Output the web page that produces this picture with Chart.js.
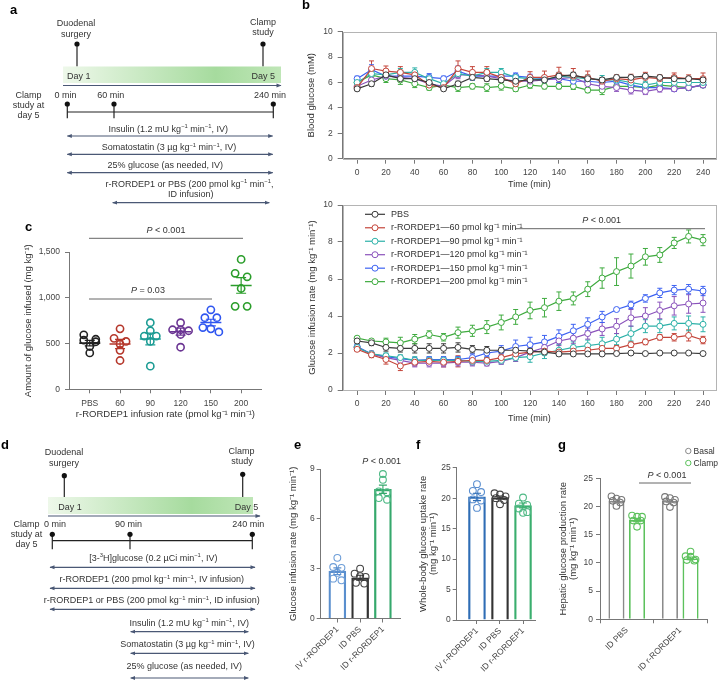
<!DOCTYPE html>
<html>
<head>
<meta charset="utf-8">
<title>r-RORDEP1 clamp figure</title>
<script src="https://cdn.jsdelivr.net/npm/chart.js@4.4.1/dist/chart.umd.min.js"></script>
<style>
  body { margin: 0; background: #fff; }
  #fig { position: relative; width: 721px; height: 680px; overflow: hidden; font-family: 'Liberation Sans', Arial, sans-serif; }
  #fig canvas { position: absolute; }
  #overlay { position: absolute; left: 0; top: 0; pointer-events: none; font-family: 'Liberation Sans', Arial, sans-serif; }
</style>
</head>
<body>
<div id="fig">
  <canvas id="chartB1"></canvas>
  <canvas id="chartB2"></canvas>
  <canvas id="chartC"></canvas>
  <canvas id="chartE"></canvas>
  <canvas id="chartF"></canvas>
  <canvas id="chartG"></canvas>
  <svg id="overlay" width="721" height="680"></svg>
</div>
<script>
// ---- panel b: time course ----
const times = [0, 10, 20, 30, 40, 50, 60, 70, 80, 90, 100, 110, 120, 130, 140, 150, 160, 170, 180, 190, 200, 210, 220, 230, 240];
const timeTicks = [0, 20, 40, 60, 80, 100, 120, 140, 160, 180, 200, 220, 240];
const seriesLabels = ['PBS', 'r-RORDEP1\u201460 pmol kg\u207B\u00B9 min\u207B\u00B9', 'r-RORDEP1\u201490 pmol kg\u207B\u00B9 min\u207B\u00B9',
  'r-RORDEP1\u2014120 pmol kg\u207B\u00B9 min\u207B\u00B9', 'r-RORDEP1\u2014150 pmol kg\u207B\u00B9 min\u207B\u00B9', 'r-RORDEP1\u2014200 pmol kg\u207B\u00B9 min\u207B\u00B9'];

// blood glucose (mM)
const glucPBS = [5.5, 5.9, 6.6, 6.3, 6.3, 6.0, 5.5, 5.9, 6.4, 6.3, 6.2, 6.1, 6.2, 6.2, 6.5, 6.6, 6.3, 6.2, 6.4, 6.4, 6.5, 6.4, 6.3, 6.3, 6.2];
const gluc60  = [5.6, 7.1, 6.9, 6.8, 6.6, 5.8, 5.6, 7.1, 6.8, 6.8, 6.4, 5.9, 6.4, 6.4, 6.6, 6.5, 6.4, 6.1, 6.3, 6.2, 6.4, 6.3, 6.4, 6.3, 6.3];
const gluc90  = [6.0, 6.7, 6.6, 6.8, 6.8, 6.3, 5.9, 6.7, 6.5, 6.8, 6.8, 6.4, 6.3, 6.2, 6.5, 6.4, 6.3, 6.2, 6.2, 6.0, 5.8, 6.0, 6.0, 6.0, 6.0];
const gluc120 = [5.7, 6.2, 6.5, 6.4, 6.3, 5.9, 5.7, 6.6, 6.6, 6.5, 6.3, 6.1, 6.1, 6.2, 6.3, 6.4, 5.9, 5.7, 5.6, 5.4, 5.3, 5.5, 5.5, 5.6, 5.8];
const gluc150 = [6.3, 7.0, 6.5, 6.5, 6.5, 6.4, 6.3, 6.9, 6.5, 6.5, 6.5, 6.5, 6.4, 6.3, 6.3, 6.1, 6.1, 6.0, 6.1, 5.8, 5.6, 5.6, 5.5, 5.6, 5.8];
const gluc200 = [6.0, 6.6, 6.3, 6.2, 5.9, 5.6, 5.8, 5.6, 5.7, 5.6, 5.7, 5.5, 5.8, 5.7, 5.7, 5.7, 5.4, 5.4, 5.7, 5.7, 5.6, 5.8, 5.7, 5.6, 5.8];
const glucPBSErr = [0.15, 0.2, 0.25, 0.2, 0.2, 0.2, 0.15, 0.2, 0.2, 0.2, 0.2, 0.2, 0.2, 0.2, 0.2, 0.2, 0.15, 0.15, 0.15, 0.15, 0.15, 0.15, 0.15, 0.15, 0.15];
const gluc60Err  = [0.2, 0.6, 0.4, 0.45, 0.3, 0.3, 0.2, 0.6, 0.45, 0.45, 0.3, 0.2, 0.45, 0.5, 0.6, 0.6, 0.5, 0.3, 0.3, 0.45, 0.4, 0.3, 0.35, 0.3, 0.45];
const gluc90Err  = [0.2, 0.3, 0.3, 0.3, 0.35, 0.3, 0.2, 0.3, 0.3, 0.3, 0.3, 0.25, 0.25, 0.25, 0.3, 0.3, 0.3, 0.35, 0.3, 0.3, 0.3, 0.3, 0.3, 0.3, 0.3];
const gluc120Err = [0.2, 0.3, 0.3, 0.3, 0.3, 0.3, 0.2, 0.3, 0.3, 0.3, 0.3, 0.25, 0.25, 0.25, 0.3, 0.3, 0.3, 0.3, 0.3, 0.3, 0.25, 0.25, 0.2, 0.2, 0.2];
const gluc150Err = [0.2, 0.4, 0.3, 0.3, 0.3, 0.3, 0.2, 0.4, 0.3, 0.3, 0.3, 0.25, 0.25, 0.25, 0.3, 0.3, 0.3, 0.3, 0.3, 0.25, 0.25, 0.2, 0.2, 0.2, 0.2];
const gluc200Err = [0.25, 0.3, 0.3, 0.35, 0.3, 0.2, 0.25, 0.3, 0.2, 0.3, 0.3, 0.2, 0.25, 0.2, 0.2, 0.25, 0.2, 0.35, 0.2, 0.2, 0.25, 0.2, 0.2, 0.2, 0.2];

// glucose infusion rate (mg kg-1 min-1)
const girPBS = [2.65, 2.55, 2.3, 2.25, 2.25, 2.25, 2.25, 2.3, 2.2, 2.15, 2.15, 2.15, 2.1, 2.05, 1.95, 1.95, 1.95, 1.95, 1.97, 2.0, 1.97, 2.0, 2.0, 2.0, 1.97];
const gir60  = [2.2, 1.9, 1.65, 1.3, 1.5, 1.55, 1.5, 1.55, 1.6, 1.6, 1.75, 1.95, 2.05, 2.1, 2.05, 2.1, 2.15, 2.25, 2.25, 2.45, 2.6, 2.85, 2.85, 2.95, 2.7];
const gir90  = [2.3, 1.95, 1.85, 1.75, 1.6, 1.6, 1.6, 1.6, 1.55, 1.55, 1.6, 1.75, 1.8, 2.0, 2.15, 2.3, 2.4, 2.5, 2.75, 3.05, 3.45, 3.45, 3.6, 3.6, 3.55];
const gir120 = [2.3, 1.95, 1.75, 1.6, 1.45, 1.45, 1.45, 1.5, 1.5, 1.45, 1.55, 1.75, 2.05, 2.3, 2.65, 2.8, 3.05, 3.3, 3.45, 3.9, 4.0, 4.3, 4.55, 4.65, 4.7];
const gir150 = [2.35, 1.95, 1.8, 1.7, 1.6, 1.65, 1.65, 1.65, 1.75, 2.0, 2.1, 2.35, 2.45, 2.6, 2.9, 3.2, 3.55, 3.95, 4.35, 4.6, 4.95, 5.25, 5.4, 5.45, 5.35];
const gir200 = [2.8, 2.65, 2.6, 2.55, 2.75, 3.0, 2.85, 3.1, 3.2, 3.4, 3.65, 3.95, 4.3, 4.45, 4.8, 4.95, 5.45, 6.05, 6.4, 6.7, 7.2, 7.3, 7.95, 8.3, 8.1];
const girPBSErr = [0.15, 0.15, 0.2, 0.2, 0.25, 0.25, 0.25, 0.25, 0.2, 0.2, 0.15, 0.15, 0.15, 0.15, 0.1, 0.1, 0.1, 0.05, 0.05, 0.05, 0.05, 0.05, 0.05, 0.05, 0.05];
const gir60Err  = [0.1, 0.15, 0.25, 0.25, 0.2, 0.2, 0.25, 0.3, 0.2, 0.15, 0.15, 0.15, 0.1, 0.15, 0.15, 0.15, 0.1, 0.15, 0.15, 0.15, 0.15, 0.15, 0.2, 0.3, 0.2];
const gir90Err  = [0.1, 0.15, 0.15, 0.15, 0.2, 0.2, 0.2, 0.2, 0.2, 0.2, 0.2, 0.2, 0.3, 0.3, 0.3, 0.3, 0.3, 0.35, 0.3, 0.4, 0.35, 0.35, 0.35, 0.4, 0.4];
const gir120Err = [0.1, 0.15, 0.15, 0.2, 0.2, 0.2, 0.2, 0.2, 0.2, 0.15, 0.15, 0.2, 0.25, 0.25, 0.25, 0.3, 0.3, 0.35, 0.4, 0.45, 0.45, 0.45, 0.5, 0.5, 0.5];
const gir150Err = [0.1, 0.1, 0.15, 0.15, 0.15, 0.15, 0.15, 0.15, 0.2, 0.2, 0.3, 0.35, 0.4, 0.35, 0.35, 0.35, 0.35, 0.3, 0.1, 0.2, 0.2, 0.25, 0.25, 0.25, 0.25];
const gir200Err = [0.1, 0.1, 0.2, 0.3, 0.25, 0.2, 0.2, 0.3, 0.3, 0.35, 0.4, 0.4, 0.45, 0.5, 0.5, 0.35, 0.4, 0.55, 0.75, 0.65, 0.45, 0.4, 0.3, 0.35, 0.3];

// ---- panel c: amount of glucose infused (mg kg-1) ----
const doseLabels = ['PBS', '60', '90', '120', '150', '200'];
const cPBS = [596, 547, 537, 520, 468, 398];
const c60  = [661, 557, 523, 495, 426, 315];
const c90  = [728, 640, 582, 582, 523, 253];
const c120 = [728, 651, 651, 640, 599, 460];
const c150 = [869, 783, 783, 675, 661, 627];
const c200 = [1420, 1268, 1230, 1102, 907, 907];
const cMean = [505, 495, 550, 630, 730, 1135];
const cSem  = [30, 50, 65, 38, 36, 85];

// ---- panel e: glucose infusion rate ----
const barLabels = ['IV r-RORDEP1', 'ID PBS', 'ID r-RORDEP1'];
const eIV  = [3.65, 3.1, 3.05, 2.75, 2.4, 2.3];
const ePBS = [3.0, 2.7, 2.55, 2.5, 2.15, 2.1];
const eID  = [8.7, 8.35, 7.65, 7.6, 7.25, 7.15];
const eMean = [2.85, 2.45, 7.78];
const eSem  = [0.2, 0.15, 0.25];

// ---- panel f: whole-body glucose uptake ----
const fIV  = [22.3, 21.2, 21.0, 19.8, 19.6, 18.4];
const fPBS = [20.8, 20.6, 20.3, 20.0, 19.7, 19.0];
const fID  = [20.1, 19.1, 18.9, 18.3, 17.7, 17.6];
const fMean = [20.2, 20.1, 18.8];
const fSem  = [0.6, 0.25, 0.4];

// ---- panel g: hepatic glucose production ----
const gLabels = ['ID PBS', 'ID r-RORDEP1'];
const gBasalPBS = [21.8, 21.4, 21.2, 21.0, 20.7, 20.1];
const gClampPBS = [18.4, 18.2, 18.2, 17.5, 17.5, 16.4];
const gBasalR   = [21.7, 21.5, 21.2, 20.9, 20.7, 19.9];
const gClampR   = [12.0, 11.2, 11.1, 10.6, 10.5, 10.4];
const gBasalMean = [21.0, 21.0];
const gClampMean = [17.6, 10.8];
const gBasalSem = [0.25, 0.25];
const gClampSem = [0.3, 0.25];

// colours
const bColors = ['#3a3a3a', '#c4453a', '#2cb1a8', '#8a52bb', '#3d62f2', '#3fab3f'];
const cColors = ['#222222', '#b5372b', '#1c9c94', '#6b3593', '#2f56f0', '#2a9d2a'];
const eColors = ['#5a8fce', '#333333', '#35a86c'];
const fColors = ['#2f6db5', '#333333', '#3aae6e'];
const basalColor = '#8a8a8a', clampColor = '#5cc15c';

Chart.defaults.font.family = "'Liberation Sans', Arial, sans-serif";
Chart.defaults.color = '#333';

// put dots of one group into rows (pixel space) and centre each row on the group
function swarm(py, gap, tol) {
  const order = py.map((_, i) => i).sort((a, b) => py[a] - py[b]);
  const off = py.map(() => 0);
  let row = [];
  const flush = () => {
    const n = row.length, s = n === 2 ? gap * 1.5 : gap;
    row.forEach((idx, k) => { off[idx] = (k - (n - 1) / 2) * s; });
    row = [];
  };
  order.forEach(i => {
    if (row.length && (py[i] - py[row[0]] > tol || row.length >= 3)) flush();
    row.push(i);
  });
  flush();
  return off;
}

function valueOf(d) { return (d !== null && typeof d === 'object') ? d.y : d; }

function drawErrors(chart, behind) {
  const ctx = chart.ctx, ys = chart.scales.y;
  chart.data.datasets.forEach((ds, i) => {
    if (!ds.err || !!ds.errBehind !== behind) return;
    const meta = chart.getDatasetMeta(i);
    ctx.save();
    ctx.lineWidth = ds.errWidth || 1;
    meta.data.forEach((el, j) => {
      const v = valueOf(ds.data[j]);
      const top = ys.getPixelForValue(v + ds.err[j]), bot = ys.getPixelForValue(v - ds.err[j]);
      const w = ds.capW || 3;
      ctx.strokeStyle = Array.isArray(ds.errColor) ? ds.errColor[j] : (ds.errColor || ds.borderColor);
      ctx.beginPath();
      ctx.moveTo(el.x, top); ctx.lineTo(el.x, bot);
      ctx.moveTo(el.x - w, top); ctx.lineTo(el.x + w, top);
      ctx.moveTo(el.x - w, bot); ctx.lineTo(el.x + w, bot);
      ctx.stroke();
    });
    ctx.restore();
  });
}

function drawDots(chart) {
  const ctx = chart.ctx, ys = chart.scales.y;
  chart.data.datasets.forEach((ds, i) => {
    if (!ds.dots) return;
    const meta = chart.getDatasetMeta(i);
    meta.data.forEach((el, j) => {
      const py = ds.dots[j].map(v => ys.getPixelForValue(v));
      const px = swarm(py, ds.dotGap, ds.dotTol);
      ctx.save();
      ctx.strokeStyle = Array.isArray(ds.dotColor) ? ds.dotColor[j] : ds.dotColor;
      ctx.lineWidth = ds.dotWidth || 1.2;
      py.forEach((y, k) => {
        ctx.beginPath();
        ctx.arc(el.x + px[k], y, ds.dotRadius, 0, Math.PI * 2);
        ctx.stroke();
      });
      ctx.restore();
    });
  });
}

const marksPlugin = {
  id: 'marks',
  beforeDatasetsDraw(chart) { drawErrors(chart, true); },
  afterDatasetsDraw(chart) { drawDots(chart); drawErrors(chart, false); }
};

const framePlugin = {
  id: 'frame',
  beforeDatasetsDraw(chart) {
    const a = chart.chartArea, ctx = chart.ctx;
    ctx.save();
    ctx.strokeStyle = '#b4b4b4';
    ctx.lineWidth = 1;
    ctx.strokeRect(Math.round(a.left) + 0.5, Math.round(a.top) + 0.5, Math.round(a.right - a.left), Math.round(a.bottom - a.top));
    ctx.restore();
  }
};

// legend drawn inside the plot of the infusion-rate chart
const insideLegend = {
  id: 'insideLegend',
  afterDatasetsDraw(chart, args, opts) {
    if (!opts.show) return;
    const ctx = chart.ctx, a = chart.chartArea;
    ctx.save();
    ctx.font = "9px 'Liberation Sans', Arial, sans-serif";
    ctx.textBaseline = 'middle';
    chart.data.datasets.forEach((ds, i) => {
      const x = a.left + opts.dx, y = a.top + opts.dy + i * opts.step;
      ctx.strokeStyle = ds.borderColor;
      ctx.lineWidth = 1.2;
      ctx.beginPath(); ctx.moveTo(x, y); ctx.lineTo(x + 20, y); ctx.stroke();
      ctx.beginPath(); ctx.arc(x + 10, y, 3, 0, Math.PI * 2);
      ctx.fillStyle = '#fff'; ctx.fill(); ctx.lineWidth = 1; ctx.stroke();
      ctx.fillStyle = '#333';
      ctx.fillText(ds.label, x + 26, y);
    });
    ctx.restore();
  }
};

// put a chart so that its plot area lands on the given page rectangle
function placeChart(id, plot, m, config) {
  const cv = document.getElementById(id);
  const left = Math.round(plot.x0 - m.l), top = Math.round(plot.y0 - m.t);
  const w = Math.round(plot.x1 + m.r) - left, h = Math.round(plot.y1 + m.b) - top;
  cv.style.left = left + 'px'; cv.style.top = top + 'px';
  cv.width = w; cv.height = h;
  cv.style.width = w + 'px'; cv.style.height = h + 'px';
  const yW = plot.x0 - left, xH = top + h - plot.y1;
  const o = config.options;
  o.responsive = false;
  o.animation = false;
  o.layout = { padding: { top: plot.y0 - top, right: left + w - plot.x1, left: 0, bottom: 0 } };
  o.scales.x.afterFit = s => { s.height = xH; s.paddingLeft = 0; s.paddingRight = 0; };
  o.scales.y.afterFit = s => { s.width = yW; s.paddingTop = 0; s.paddingBottom = 0; };
  o.plugins = Object.assign({ legend: { display: false }, tooltip: { enabled: false } }, o.plugins || {});
  return new Chart(cv, config);
}

function axisBase() {
  return {
    border: { color: '#777', width: 1 },
    grid: { drawOnChartArea: false, drawTicks: true, tickLength: 4, color: '#777' }
  };
}

function lineDatasets(values, errs) {
  return values.map((arr, k) => ({
    label: seriesLabels[k],
    data: times.map((t, i) => ({ x: t, y: arr[i] })),
    err: errs[k], errBehind: true, capW: 2.5, errColor: bColors[k],
    borderColor: bColors[k], borderWidth: 1.2,
    pointRadius: 3, pointBorderWidth: 1, pointBackgroundColor: '#fff', pointBorderColor: bColors[k]
  }));
}

function timeChart(id, plot, m, values, errs, yTitle, showLegend) {
  return placeChart(id, plot, m, {
    type: 'line',
    data: { datasets: lineDatasets(values, errs) },
    options: {
      scales: {
        x: Object.assign(axisBase(), {
          type: 'linear', min: -10, max: 249,
          afterBuildTicks: s => { s.ticks = timeTicks.map(v => ({ value: v })); },
          grid: { drawOnChartArea: false, tickLength: 5, color: '#777' },
          ticks: { font: { size: 8.5 }, color: '#444', padding: 4 },
          title: { display: true, text: 'Time (min)', font: { size: 9, lineHeight: 1.2 }, padding: 0, color: '#333' }
        }),
        y: Object.assign(axisBase(), {
          type: 'linear', min: 0, max: 10,
          grid: { drawOnChartArea: false, tickLength: 5, color: '#777' },
          ticks: { stepSize: 2, font: { size: 8.5 }, color: '#444', padding: 5 },
          title: { display: true, text: yTitle, font: { size: 9.5, lineHeight: 1.2 }, padding: 0, color: '#333' }
        })
      },
      plugins: { insideLegend: { show: showLegend, dx: 22.3, dy: 9.3, step: 13.47 } }
    },
    plugins: [framePlugin, marksPlugin, insideLegend]
  });
}

timeChart('chartB1', { x0: 342.7, x1: 718, y0: 31.7, y1: 158.7 }, { l: 36.7, r: 3, t: 10, b: 31.7 },
  [glucPBS, gluc60, gluc90, gluc120, gluc150, gluc200],
  [glucPBSErr, gluc60Err, gluc90Err, gluc120Err, gluc150Err, gluc200Err],
  'Blood glucose (mM)', false);

timeChart('chartB2', { x0: 342.7, x1: 718.3, y0: 205, y1: 390 }, { l: 35.4, r: 2.7, t: 8, b: 34.2 },
  [girPBS, gir60, gir90, gir120, gir150, gir200],
  [girPBSErr, gir60Err, gir90Err, gir120Err, gir150Err, gir200Err],
  'Glucose infusion rate (mg kg\u207B\u00B9 min\u207B\u00B9)', true);

// panel c: dot plot with mean and SEM
placeChart('chartC', { x0: 69, x1: 264, y0: 245, y1: 389.3 }, { l: 46.2, r: 10, t: 5, b: 30.4 }, {
  type: 'scatter',
  data: {
    datasets: [{
      data: cMean.map((v, i) => ({ x: i, y: v })),
      pointStyle: 'line', pointRadius: 10.5, pointBorderWidth: 1.6,
      pointBorderColor: cColors, borderColor: cColors,
      err: cSem, errColor: cColors, capW: 5, errWidth: 1.2,
      dots: [cPBS, c60, c90, c120, c150, c200], dotColor: cColors, dotRadius: 3.6, dotWidth: 1.6, dotGap: 8, dotTol: 5
    }]
  },
  options: {
    scales: {
      x: Object.assign(axisBase(), {
        type: 'linear', min: -0.686, max: 5.686,
        afterBuildTicks: s => { s.ticks = doseLabels.map((_, i) => ({ value: i })); },
        ticks: { font: { size: 8.5 }, color: '#444', padding: 5, callback: v => doseLabels[v] },
        title: { display: true, text: 'r-RORDEP1 infusion rate (pmol kg\u207B\u00B9 min\u207B\u00B9)', font: { size: 9.5, lineHeight: 1.2 }, padding: 0, color: '#333' }
      }),
      y: Object.assign(axisBase(), {
        type: 'linear', min: 0, max: 1500,
        ticks: { stepSize: 500, font: { size: 8.5 }, color: '#444', padding: 5, callback: v => v.toLocaleString('en-US') },
        title: { display: true, text: 'Amount of glucose infused (mg kg\u207B\u00B9)', font: { size: 9.5, lineHeight: 1.2 }, padding: 0, color: '#333' }
      })
    }
  },
  plugins: [marksPlugin]
});

// panels e and f: single-bar-per-group charts on a linear axis
function barChart(id, plot, m, means, sems, dots, colors, dotColors, yMax, yStep, yTitle, xMin, xMax) {
  return placeChart(id, plot, m, {
    type: 'bar',
    data: {
      datasets: [{
        data: means.map((v, i) => ({ x: i, y: v })),
        borderColor: colors, backgroundColor: 'rgba(255,255,255,0)', borderWidth: 1.6, barThickness: 17,
        err: sems, errColor: colors, capW: 4, errWidth: 1.1,
        dots: dots, dotColor: dotColors, dotRadius: 3.4, dotWidth: 1.1, dotGap: 5.5, dotTol: 4
      }]
    },
    options: {
      scales: {
        x: Object.assign(axisBase(), {
          type: 'linear', min: xMin, max: xMax, offset: false,
          afterBuildTicks: s => { s.ticks = barLabels.map((_, i) => ({ value: i })); },
          grid: { drawOnChartArea: false, tickLength: 4, color: '#777', offset: false },
          ticks: { font: { size: 8.5 }, color: '#444', padding: 2, minRotation: 45, maxRotation: 45, autoSkip: false, callback: v => barLabels[v] }
        }),
        y: Object.assign(axisBase(), {
          type: 'linear', min: 0, max: yMax,
          ticks: { stepSize: yStep, font: { size: 8.5 }, color: '#444', padding: 2 },
          title: { display: true, text: yTitle, font: { size: 9.5, lineHeight: 1.1 }, padding: 0, color: '#333' }
        })
      }
    },
    plugins: [marksPlugin]
  });
}

barChart('chartE', { x0: 320.7, x1: 400, y0: 469, y1: 618.5 }, { l: 33.1, r: 2, t: 4, b: 55 },
  eMean, eSem, [eIV, ePBS, eID], eColors, ['#6e9ed8', '#444444', '#4fb985'], 9, 3,
  'Glucose infusion rate (mg kg\u207B\u00B9 min\u207B\u00B9)', -0.73, 2.75);

barChart('chartF', { x0: 456.7, x1: 535, y0: 467.7, y1: 620 }, { l: 39.2, r: 2, t: 4, b: 55 },
  fMean, fSem, [fIV, fPBS, fID], fColors, ['#5b8fd0', '#444444', '#4fb985'], 25, 5,
  ['Whole-body glucose uptake rate', '(mg kg\u207B\u00B9 min\u207B\u00B9)'], -0.88, 2.52);

// panel g: grouped bars
placeChart('chartG', { x0: 600, x1: 707, y0: 478.3, y1: 619.3 }, { l: 41.9, r: 12, t: 4, b: 58 }, {
  type: 'bar',
  data: {
    labels: gLabels,
    datasets: [
      { label: 'Basal', data: gBasalMean, borderColor: basalColor, backgroundColor: 'rgba(255,255,255,0)', borderWidth: 1.6,
        categoryPercentage: 0.77, barPercentage: 0.78,
        err: gBasalSem, errColor: basalColor, capW: 4, errWidth: 1.1,
        dots: [gBasalPBS, gBasalR], dotColor: '#777', dotRadius: 3.3, dotWidth: 1.1, dotGap: 5, dotTol: 3.5 },
      { label: 'Clamp', data: gClampMean, borderColor: clampColor, backgroundColor: 'rgba(255,255,255,0)', borderWidth: 1.6,
        categoryPercentage: 0.77, barPercentage: 0.78,
        err: gClampSem, errColor: clampColor, capW: 4, errWidth: 1.1,
        dots: [gClampPBS, gClampR], dotColor: clampColor, dotRadius: 3.3, dotWidth: 1.1, dotGap: 5, dotTol: 3.5 }
    ]
  },
  options: {
    scales: {
      x: Object.assign(axisBase(), {
        ticks: { font: { size: 8.5 }, color: '#444', padding: 2, minRotation: 45, maxRotation: 45, autoSkip: false }
      }),
      y: Object.assign(axisBase(), {
        type: 'linear', min: 0, max: 25,
        ticks: { stepSize: 5, font: { size: 8.5 }, color: '#444', padding: 3 },
        title: { display: true, text: ['Hepatic glucose production rate', '(mg kg\u207B\u00B9 min\u207B\u00B9)'], font: { size: 9.5, lineHeight: 1.1 }, padding: 0, color: '#333' }
      })
    }
  },
  plugins: [marksPlugin]
});

// ---- schematics, panel letters and annotations (SVG overlay) ----
const svg = document.getElementById('overlay');
const NS = 'http://www.w3.org/2000/svg';
function el(tag, attrs, parent) {
  const e = document.createElementNS(NS, tag);
  for (const k in attrs) e.setAttribute(k, attrs[k]);
  (parent || svg).appendChild(e);
  return e;
}
// ^..^ = superscript, *..* = italic
function txt(x, y, s, anchor, size, extra) {
  size = size || 9;
  const t = el('text', Object.assign({ x: x, y: y, 'text-anchor': anchor || 'start', 'font-size': size, fill: '#333' }, extra || {}));
  let shift = 0;
  s.split(/(\^[^^]*\^|\*[^*]*\*)/).filter(p => p).forEach(p => {
    const sp = document.createElementNS(NS, 'tspan');
    if (p[0] === '^') {
      sp.textContent = p.slice(1, -1);
      sp.setAttribute('font-size', size * 0.65);
      sp.setAttribute('dy', -3.4);
      shift = 3.4;
    } else {
      if (p[0] === '*') { sp.textContent = p.slice(1, -1); sp.setAttribute('font-style', 'italic'); }
      else sp.textContent = p;
      if (shift) { sp.setAttribute('dy', shift); shift = 0; }
    }
    t.appendChild(sp);
  });
  return t;
}

const defs = el('defs', {});
const grad = el('linearGradient', { id: 'grd', x1: 0, y1: 0, x2: 1, y2: 0 }, defs);
el('stop', { offset: 0, 'stop-color': '#eef8ea' }, grad);
el('stop', { offset: 0.7, 'stop-color': '#a6db9e' }, grad);
el('stop', { offset: 1, 'stop-color': '#bfe6b7' }, grad);
const mk = el('marker', { id: 'ah', viewBox: '0 0 10 10', refX: 9, refY: 5, markerWidth: 5.5, markerHeight: 5, orient: 'auto-start-reverse', markerUnits: 'userSpaceOnUse' }, defs);
el('path', { d: 'M0,1 L10,5 L0,9 z', fill: '#4a5875' }, mk);

const arrowColor = '#4a5875';
function arrow(x1, x2, y, both) {
  const a = { x1: x1, y1: y, x2: x2, y2: y, stroke: arrowColor, 'stroke-width': 1.2, 'marker-end': 'url(#ah)' };
  if (both) a['marker-start'] = 'url(#ah)';
  el('line', a);
}
function pin(x, yTop, yBot) {
  el('line', { x1: x, y1: yTop, x2: x, y2: yBot, stroke: '#222', 'stroke-width': 1.2 });
  el('circle', { cx: x, cy: yTop, r: 2.6, fill: '#111' });
}
function timeline(xs, yDot, yLine, yEnd) {
  el('line', { x1: xs[0], y1: yLine, x2: xs[xs.length - 1], y2: yLine, stroke: '#222', 'stroke-width': 1.2 });
  xs.forEach(x => {
    el('line', { x1: x, y1: yDot, x2: x, y2: yEnd, stroke: '#222', 'stroke-width': 1.2 });
    el('circle', { cx: x, cy: yDot, r: 2.6, fill: '#111' });
  });
}

function letter(x, y, s) { txt(x, y, s, 'start', 13, { 'font-weight': 'bold', fill: '#000' }); }
letter(10, 13.5, 'a'); letter(302, 9, 'b'); letter(25, 231, 'c');
letter(1, 449, 'd'); letter(294, 449, 'e'); letter(416, 449, 'f'); letter(558, 449, 'g');

// panel a
txt(76, 26, 'Duodenal', 'middle'); txt(76, 36.5, 'surgery', 'middle');
txt(263, 24.5, 'Clamp', 'middle'); txt(263, 34.5, 'study', 'middle');
pin(77, 44, 66.5); pin(263, 44, 66.5);
el('rect', { x: 63, y: 66.5, width: 218, height: 16.5, fill: 'url(#grd)' });
txt(67, 78.8, 'Day 1'); txt(275, 78.8, 'Day 5', 'end');
arrow(63, 281, 85.5, false);
txt(28.5, 97.5, 'Clamp', 'middle'); txt(28.5, 108, 'study at', 'middle'); txt(28.5, 118.3, 'day 5', 'middle');
txt(54.5, 97.5, '0 min'); txt(97.3, 97.5, '60 min'); txt(254, 97.5, '240 min');
timeline([67.3, 114, 273.3], 104, 112, 118.3);
txt(168.3, 131.5, 'Insulin (1.2 mU kg^\u22121^ min^\u22121^, IV)', 'middle');
arrow(67.3, 272.7, 136, true);
txt(169, 150, 'Somatostatin (3 \u00B5g kg^\u22121^ min^\u22121^, IV)', 'middle');
arrow(67.3, 272.7, 154.3, true);
txt(165.3, 168, '25% glucose (as needed, IV)', 'middle');
arrow(67.3, 272.7, 172.7, true);
txt(189.5, 186.5, 'r-RORDEP1 or PBS (200 pmol kg^\u22121^ min^\u22121^,', 'middle');
txt(190.8, 197.3, 'ID infusion)', 'middle');
arrow(112.7, 269.3, 202.7, true);

// panel d
txt(64, 455, 'Duodenal', 'middle'); txt(64, 465.5, 'surgery', 'middle');
txt(241.5, 454, 'Clamp', 'middle'); txt(242, 464, 'study', 'middle');
pin(64.3, 475.7, 497); pin(242.7, 474.3, 497);
el('rect', { x: 48, y: 497, width: 205, height: 17, fill: 'url(#grd)' });
txt(58.3, 509.5, 'Day 1'); txt(258.3, 509.5, 'Day 5', 'end');
arrow(48, 260, 516, false);
txt(26.5, 527, 'Clamp', 'middle'); txt(26.5, 537, 'study at', 'middle'); txt(26.5, 547, 'day 5', 'middle');
txt(44, 527, '0 min'); txt(115, 527, '90 min'); txt(232.3, 527, '240 min');
timeline([52.3, 130, 252.3], 534.3, 540.7, 549.3);
txt(153.3, 560.5, '[3-^3^H]glucose (0.2 \u00B5Ci min^\u22121^, IV)', 'middle');
arrow(50, 255, 567.3, true);
txt(151.7, 582, 'r-RORDEP1 (200 pmol kg^\u22121^ min^\u22121^, IV infusion)', 'middle');
arrow(50, 255, 588.3, true);
txt(151.7, 603, 'r-RORDEP1 or PBS (200 pmol kg^\u22121^ min^\u22121^, ID infusion)', 'middle');
arrow(50, 255, 609.3, true);
txt(189.2, 625.5, 'Insulin (1.2 mU kg^\u22121^ min^\u22121^, IV)', 'middle');
arrow(130.7, 248.3, 631.7, true);
txt(187.5, 647, 'Somatostatin (3 \u00B5g kg^\u22121^ min^\u22121^, IV)', 'middle');
arrow(130.7, 248.3, 653.3, true);
txt(184.2, 668.5, '25% glucose (as needed, IV)', 'middle');
arrow(130.7, 248.3, 678, true);

// P values
function bracket(x1, x2, y) { el('line', { x1: x1, y1: y, x2: x2, y2: y, stroke: '#555', 'stroke-width': 0.9 }); }
txt(166, 233, '*P* < 0.001', 'middle', 9); bracket(89, 243, 238.3);
txt(148, 292.7, '*P* = 0.03', 'middle', 9); bracket(89, 212, 299);
txt(601.7, 223, '*P* < 0.001', 'middle', 9); bracket(515, 705, 228.7);
txt(381.7, 464, '*P* < 0.001', 'middle', 9);
txt(667, 478, '*P* < 0.001', 'middle', 9); bracket(639, 691, 483);

// g legend
el('circle', { cx: 688.3, cy: 451, r: 2.7, fill: 'none', stroke: basalColor, 'stroke-width': 1 });
txt(693.5, 454.3, 'Basal', 'start', 8.5);
el('circle', { cx: 688.3, cy: 463, r: 2.7, fill: 'none', stroke: clampColor, 'stroke-width': 1 });
txt(693.5, 466.3, 'Clamp', 'start', 8.5);
</script>
</body>
</html>
